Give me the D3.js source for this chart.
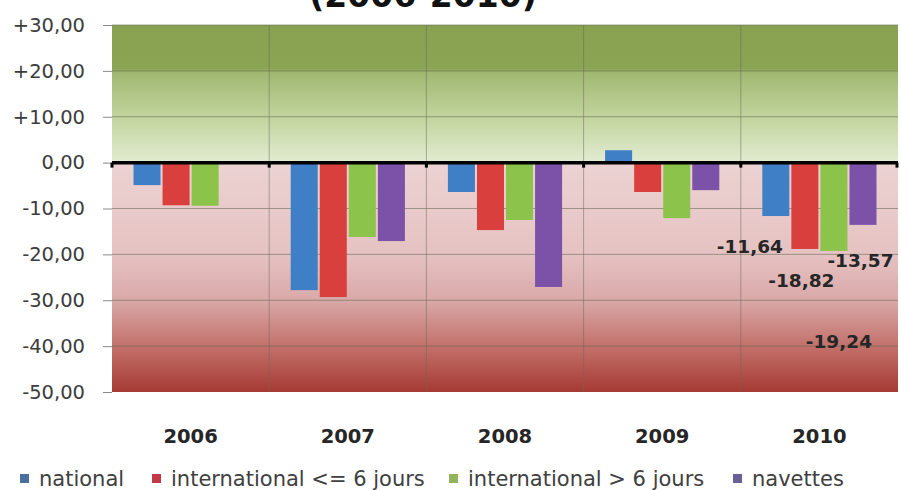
<!DOCTYPE html>
<html>
<head>
<meta charset="utf-8">
<script src="https://cdn.jsdelivr.net/npm/d3@7"></script>
<style>
  html, body { margin: 0; padding: 0; background: #ffffff; }
  svg { display: block; }
</style>
</head>
<body>
<svg id="chart" width="901" height="490"></svg>
<script>
// Yearly change (%) by type of trip
const years = ["2006", "2007", "2008", "2009", "2010"];
const seriesNames = ["national", "international <= 6 jours", "international > 6 jours", "navettes"];
const national      = [-4.9, -27.8, -6.4,  2.7, -11.64];
const intlShort     = [-9.3, -29.3, -14.7, -6.4, -18.82];
const intlLong      = [-9.4, -16.2, -12.5, -12.1, -19.24];
const navettes      = [0,   -17.1, -27.1, -6.0, -13.57];
const yTicks = [30, 20, 10, 0, -10, -20, -30, -40, -50];
const titleText = "(2006-2010)";

// Values shown as data labels for 2010
const labelYear = "2010";

const seriesValues = [national, intlShort, intlLong, navettes];
const colors = ["#3f7fc6", "#d93f3d", "#8cc34b", "#7b52a8"];
const legendColors = ["#4a6f9c", "#c23a45", "#93b45c", "#6a5f96"];

const FONT = "'DejaVu Sans', Verdana, sans-serif";
const svg = d3.select("#chart");
const plotLeft = 112, plotRight = 898, plotTop = 25, plotBottom = 392;

const fr = d3.formatLocale({ decimal: ",", thousands: " ", grouping: [3], currency: ["", "€"], minus: "-" });
const fmt2 = fr.format(".2f");
const tickFmt = v => (v > 0 ? "+" : "") + fmt2(v);

const y = d3.scaleLinear().domain([-50, 30]).range([plotBottom, plotTop]);
const x0 = d3.scaleBand().domain(years).range([plotLeft, plotRight]).paddingInner(0).paddingOuter(0);
const x1 = d3.scaleBand().domain(seriesNames).range([0, x0.bandwidth()]).paddingInner(0.07).paddingOuter(0.74);

// Plot area background gradient
const defs = svg.append("defs");
const grad = defs.append("linearGradient")
  .attr("id", "bg").attr("gradientUnits", "userSpaceOnUse")
  .attr("x1", 0).attr("x2", 0).attr("y1", y(30)).attr("y2", y(-50));
const off = v => (y(v) - y(30)) / (y(-50) - y(30));
[
  [30, "#88a251"], [20.6, "#8aa453"], [19.6, "#a1b872"], [10, "#c1d49d"], [0.4, "#e1ebd0"],
  [-0.4, "#ecd2d2"], [-20, "#e6c2c2"], [-30, "#d9a9a8"], [-40, "#c3716b"], [-50, "#a63a33"]
].forEach(([v, c]) => grad.append("stop").attr("offset", off(v)).attr("stop-color", c));

svg.append("rect")
  .attr("x", plotLeft).attr("y", y(30))
  .attr("width", plotRight - plotLeft).attr("height", y(-50) - y(30))
  .attr("fill", "url(#bg)");

// Horizontal gridlines
svg.append("g").selectAll("line").data(yTicks.filter(v => v !== 0 && v !== -50)).join("line")
  .attr("x1", plotLeft).attr("x2", plotRight)
  .attr("y1", d => y(d)).attr("y2", d => y(d))
  .attr("stroke", "#5f6650").attr("stroke-opacity", 0.55).attr("stroke-width", 1);

// Vertical category separators
svg.append("g").selectAll("line").data(years.slice(1)).join("line")
  .attr("x1", d => x0(d)).attr("x2", d => x0(d))
  .attr("y1", y(30)).attr("y2", y(-50))
  .attr("stroke", "#6a6a5a").attr("stroke-opacity", 0.5).attr("stroke-width", 1);

// Y axis
const yAxis = d3.axisLeft(y).tickValues(yTicks).tickFormat(tickFmt).tickSize(9).tickPadding(18);
const ya = svg.append("g").attr("transform", `translate(${plotLeft},0)`).call(yAxis);
ya.select(".domain").remove();
ya.selectAll(".tick line").attr("stroke", "#8a8a8a");
ya.selectAll(".tick text")
  .attr("font-family", FONT)
  .attr("font-size", 19.5).attr("fill", "#3c3c3c");

// Bars
const rows = [];
years.forEach((yr, i) => seriesNames.forEach((s, j) => rows.push({ yr, s, j, v: seriesValues[j][i] })));
svg.append("g").selectAll("rect").data(rows.filter(d => d.v !== 0)).join("rect")
  .attr("x", d => x0(d.yr) + x1(d.s))
  .attr("width", x1.bandwidth())
  .attr("y", d => y(Math.max(0, d.v)))
  .attr("height", d => Math.abs(y(d.v) - y(0)))
  .attr("fill", d => colors[d.j]);

// Zero line
svg.append("line")
  .attr("x1", plotLeft).attr("x2", plotRight).attr("y1", y(0)).attr("y2", y(0))
  .attr("stroke", "#000").attr("stroke-width", 3.5);
svg.append("g").selectAll("line").data(years.concat(["end"])).join("line")
  .attr("x1", d => d === "end" ? plotRight - 1 : x0(d)).attr("x2", d => d === "end" ? plotRight - 1 : x0(d))
  .attr("y1", y(0)).attr("y2", y(0) + 5)
  .attr("stroke", "#000").attr("stroke-width", 3);

// Data labels for 2010 (offsets in px from bar centre / bar end)
const labelOffsets = [[-26, 32], [-3.5, 33], [5, 92], [-2.5, 37]];
svg.append("g").selectAll("text").data(rows.filter(d => d.yr === labelYear)).join("text")
  .attr("x", d => x0(d.yr) + x1(d.s) + x1.bandwidth() / 2 + labelOffsets[d.j][0])
  .attr("y", d => y(d.v) + labelOffsets[d.j][1])
  .attr("text-anchor", "middle")
  .attr("dominant-baseline", "middle")
  .attr("font-family", FONT)
  .attr("font-weight", "bold").attr("font-size", 18.5).attr("fill", "#262626")
  .text(d => fmt2(d.v));

// Category labels
svg.append("g").selectAll("text").data(years).join("text")
  .attr("x", d => x0(d) + x0.bandwidth() / 2)
  .attr("y", 443)
  .attr("text-anchor", "middle")
  .attr("font-family", FONT)
  .attr("font-weight", "bold").attr("font-size", 19.5).attr("fill", "#262626")
  .text(d => d);

// Title (top of the chart)
svg.append("text")
  .attr("x", 423).attr("y", 7)
  .attr("text-anchor", "middle")
  .attr("font-family", FONT)
  .attr("font-weight", "bold").attr("font-size", 33).attr("fill", "#111")
  .text(titleText);

// Legend
const legendX = [20, 152, 449, 733];
const lg = svg.append("g").selectAll("g").data(seriesNames).join("g")
  .attr("transform", (d, i) => `translate(${legendX[i]},0)`);
lg.append("rect").attr("x", 0).attr("y", 474).attr("width", 9).attr("height", 9)
  .attr("fill", (d, i) => legendColors[i]);
lg.append("text").attr("x", 19).attr("y", 486)
  .attr("font-family", FONT)
  .attr("font-size", 21).attr("fill", "#404040")
  .text(d => d);
</script>
</body>
</html>
